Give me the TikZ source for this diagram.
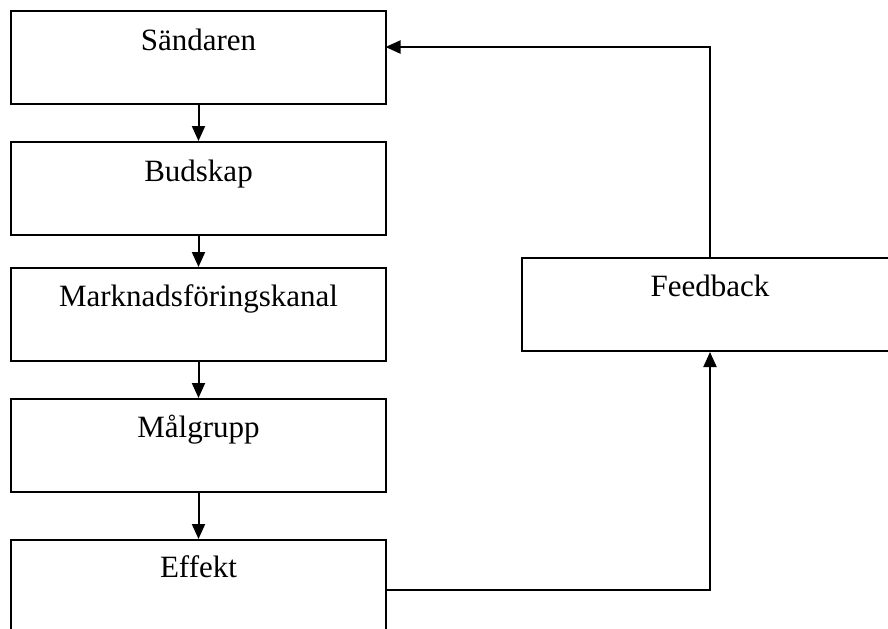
\documentclass[tikz,border=0pt]{standalone}
\usepackage{fontspec}
\setmainfont{Liberation Serif}
\usetikzlibrary{arrows.meta}
\begin{document}
\begin{tikzpicture}[x=0.5pt,y=-0.5pt,
  box/.style={draw=black, line width=1pt, rectangle, minimum width=187.5pt, minimum height=46.5pt, inner sep=0pt, anchor=north west, fill=white},
  lbl/.style={anchor=base, inner sep=0pt, font=\fontsize{15.5}{18}\selectfont},
  conn/.style={line width=1pt, -{Triangle[length=7.5pt, width=6.5pt]}}]
\useasboundingbox (0,0) rectangle (888,628);
\clip (0,0) rectangle (888,628);
\fill[white] (0,0) rectangle (888,628);
\node[box] (s) at (10,10) {};
\node[box] (b) at (10,141) {};
\node[box] (m) at (10,267) {};
\node[box] (g) at (10,398) {};
\node[box, minimum height=50pt] (e) at (10,539) {};
\node[box, minimum width=188pt] (f) at (521,257) {};
\node[lbl] (ts) at ([yshift=-20pt]s.north) {Sändaren};
\node[lbl] (tb) at ([yshift=-20pt]b.north) {Budskap};
\node[lbl] (tm) at ([yshift=-19.5pt]m.north) {Marknadsföringskanal};
\node[lbl] (tg) at ([yshift=-19.5pt]g.north) {Målgrupp};
\node[lbl] (te) at ([yshift=-19pt]e.north) {Effekt};
\node[lbl] (tf) at ([yshift=-19.5pt]f.north) {Feedback};
\coordinate (sin) at (385.5,47);
\draw[conn] (s.south) -- (b.north);
\draw[conn] (b.south) -- (m.north);
\draw[conn] (m.south) -- (g.north);
\draw[conn] (g.south) -- (e.north);
\draw[conn] (e.east) -| (f.south);
\draw[conn] (f.north) |- (sin);
\end{tikzpicture}
\end{document}
